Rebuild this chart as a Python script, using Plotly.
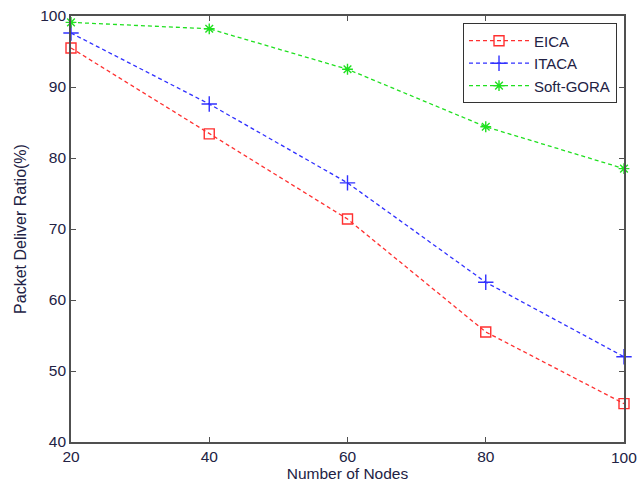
import plotly.graph_objects as go

nodes = [20, 40, 60, 80, 100]
eica = [95.5, 83.4, 71.4, 55.5, 45.4]
itaca = [97.6, 87.6, 76.5, 62.5, 52.0]
soft_gora = [99.1, 98.2, 92.5, 84.4, 78.5]

x_ticks = [20, 40, 60, 80, 100]
y_ticks = [40, 50, 60, 70, 80, 90, 100]

fig = go.Figure()
series = [
    ("EICA", eica, "#ff3030", "square-open", 10),
    ("ITACA", itaca, "#3030ff", "cross-thin-open", 11),
    ("Soft-GORA", soft_gora, "#20e020", "asterisk-open", 9),
]
for name, vals, col, sym, sz in series:
    fig.add_trace(go.Scatter(
        x=nodes, y=vals, name=name, mode="lines+markers",
        line=dict(color=col, width=1.3, dash="4px,3px"),
        marker=dict(symbol=sym, size=sz, color=col, line=dict(color=col, width=1.4)),
        cliponaxis=False,
    ))

font_fam = "Liberation Sans, Arial"
txt_col = "#222244"
axis_common = dict(
    showgrid=False, zeroline=False, showline=True, mirror="ticks",
    linecolor="#505050", linewidth=1.6, ticks="inside", ticklen=5,
    tickcolor="#505050", tickwidth=1.2, automargin=False,
    tickfont=dict(family=font_fam, size=15.5, color=txt_col),
)
fig.update_xaxes(range=[20, 100], tickvals=x_ticks,
                 title=dict(text="Number of Nodes", standoff=2,
                            font=dict(family=font_fam, size=15.5, color=txt_col)),
                 **axis_common)
fig.update_yaxes(range=[40, 100], tickvals=y_ticks,
                 title=dict(text="Packet Deliver Ratio(%)", standoff=10,
                            font=dict(family=font_fam, size=16, color=txt_col)),
                 **axis_common)

# last x tick label overflows the page edge (plotly would hide it), draw as text
fig.add_annotation(x=x_ticks[-1], xref="x", y=0, yref="paper", text=str(x_ticks[-1]),
                   showarrow=False, yanchor="top", xanchor="center", yshift=-5,
                   font=dict(family=font_fam, size=15.5, color=txt_col))

fig.update_layout(
    width=637, height=485,
    margin=dict(l=71, r=13, t=16, b=43),
    paper_bgcolor="white", plot_bgcolor="white",
    showlegend=True,
    legend=dict(x=0.987, y=0.983, xanchor="right", yanchor="top",
                bordercolor="#333333", borderwidth=1.2, bgcolor="white",
                font=dict(family=font_fam, size=15, color=txt_col),
                itemwidth=60, tracegroupgap=2),
)
fig.write_html("out.html")
